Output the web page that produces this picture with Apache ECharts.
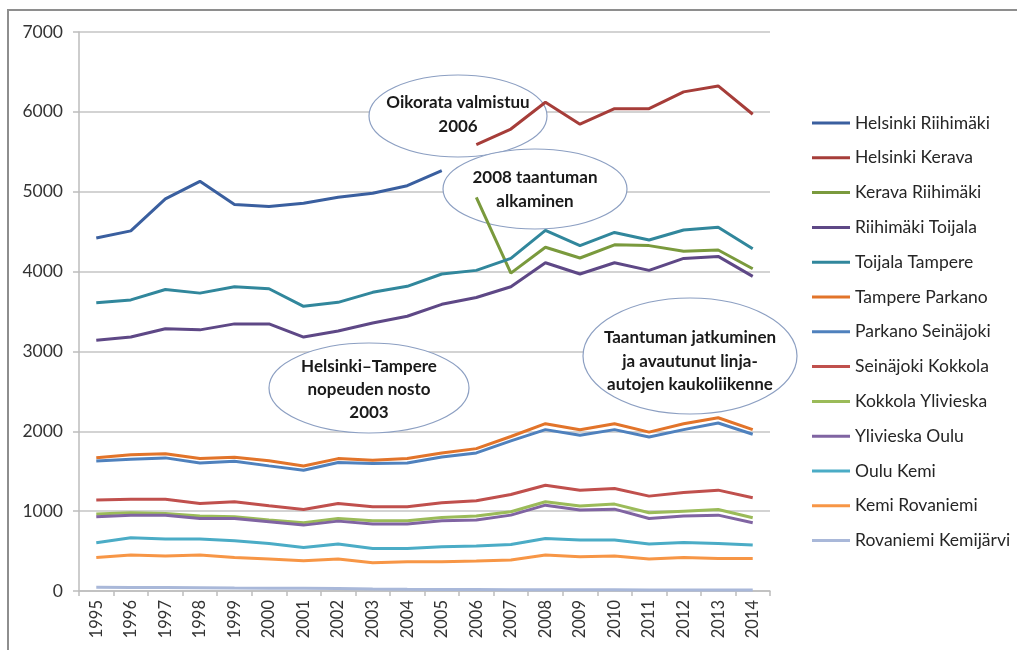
<!DOCTYPE html>
<html>
<head>
<meta charset="utf-8">
<script src="https://cdn.jsdelivr.net/npm/echarts@6/dist/echarts.min.js"></script>
<style>
  html, body { margin: 0; padding: 0; background: #ffffff; }
  #chart { width: 1017px; height: 650px; }
</style>
</head>
<body>
<div id="chart"></div>
<script>
// Years on the horizontal axis
const years = ['1995','1996','1997','1998','1999','2000','2001','2002','2003','2004',
               '2005','2006','2007','2008','2009','2010','2011','2012','2013','2014'];

// Route sections (legend order)
const routeNames = [
  'Helsinki Riihimäki', 'Helsinki Kerava', 'Kerava Riihimäki', 'Riihimäki Toijala',
  'Toijala Tampere', 'Tampere Parkano', 'Parkano Seinäjoki', 'Seinäjoki Kokkola',
  'Kokkola Ylivieska', 'Ylivieska Oulu', 'Oulu Kemi', 'Kemi Rovaniemi', 'Rovaniemi Kemijärvi'
];

// Values per section, one entry per year (null = no figure for that year)
const helsinkiRiihimaki = [4420, 4510, 4910, 5130, 4840, 4815, 4855, 4930, 4980, 5075, 5265,
                           null, null, null, null, null, null, null, null, null];
const helsinkiKerava    = [null, null, null, null, null, null, null, null, null, null, null,
                           5590, 5785, 6120, 5845, 6040, 6040, 6250, 6325, 5970];
const keravaRiihimaki   = [null, null, null, null, null, null, null, null, null, null, null,
                           4930, 3980, 4305, 4170, 4335, 4325, 4255, 4270, 4035];
const riihimakiToijala  = [3140, 3180, 3285, 3270, 3345, 3345, 3180, 3255, 3355, 3440, 3590,
                           3675, 3810, 4110, 3970, 4110, 4015, 4165, 4190, 3940];
const toijalaTampere    = [3610, 3645, 3775, 3730, 3810, 3785, 3565, 3615, 3740, 3815, 3970,
                           4015, 4165, 4515, 4325, 4490, 4395, 4520, 4555, 4285];
const tamperParkano     = [1670, 1705, 1720, 1660, 1675, 1630, 1565, 1658, 1638, 1658, 1728,
                           1783, 1935, 2095, 2020, 2095, 1990, 2095, 2170, 2020];
const parkanoSeinajoki  = [1628, 1650, 1667, 1604, 1625, 1567, 1513, 1608, 1596, 1604, 1679,
                           1729, 1879, 2021, 1950, 2021, 1929, 2021, 2104, 1963];
const seinajokiKokkola  = [1138, 1150, 1150, 1096, 1117, 1067, 1021, 1096, 1054, 1054, 1104,
                           1129, 1208, 1325, 1263, 1283, 1188, 1233, 1263, 1167];
const kokkolaYlivieska  = [963, 979, 971, 938, 929, 888, 854, 908, 879, 879, 921,
                           938, 992, 1117, 1063, 1088, 979, 1000, 1021, 917];
const ylivieskaOulu     = [929, 950, 950, 908, 908, 867, 825, 875, 838, 838, 879,
                           888, 950, 1075, 1013, 1025, 908, 938, 950, 854];
const ouluKemi          = [604, 667, 650, 650, 629, 596, 546, 588, 533, 533, 554,
                           563, 583, 658, 638, 638, 588, 608, 596, 575];
const kemiRovaniemi     = [421, 450, 438, 450, 421, 400, 379, 400, 354, 367, 367,
                           375, 388, 450, 429, 438, 400, 421, 408, 408];
const rovaniemiKemijarvi = [46, 45, 44, 42, 38, 35, 33, 30, 25, 22, 20,
                            18, 15, 15, 15, 15, 14, 13, 13, 12];

const seriesValues = [
  helsinkiRiihimaki, helsinkiKerava, keravaRiihimaki, riihimakiToijala, toijalaTampere,
  tamperParkano, parkanoSeinajoki, seinajokiKokkola, kokkolaYlivieska, ylivieskaOulu,
  ouluKemi, kemiRovaniemi, rovaniemiKemijarvi
];

// Y axis tick values
const yTicks = [0, 1000, 2000, 3000, 4000, 5000, 6000, 7000];

// Milestone notes
const notes = [
  ['Oikorata valmistuu', '2006'],
  ['2008 taantuman', 'alkaminen'],
  ['Helsinki–Tampere', 'nopeuden nosto', '2003'],
  ['Taantuman jatkuminen', 'ja avautunut linja-', 'autojen kaukoliikenne']
];

const palette = [
  '#3A5F9F', '#A63D39', '#7A9A3D', '#5E4886', '#31879C', '#E2742A',
  '#4F81BD', '#C0504D', '#9BBB59', '#8064A2', '#4BACC6', '#F79646', '#A9B8D9'
];

const fontFamily = 'Lato, "Open Sans", sans-serif';
const chart = echarts.init(document.getElementById('chart'), null, { renderer: 'canvas' });

// Ellipse placement for each note: centre, radii, text line centres
const noteBoxes = [
  { cx: 458, cy: 116, rx: 89, ry: 41, lines: [103, 127] },
  { cx: 535, cy: 189, rx: 92, ry: 40, lines: [178, 202] },
  { cx: 369, cy: 388, rx: 100, ry: 45, lines: [367, 390, 413] },
  { cx: 690, cy: 356, rx: 107, ry: 58, lines: [338, 362, 385] }
];

const graphics = [
  // outer frame
  {
    type: 'rect', z: 0, silent: true,
    shape: { x: 8, y: 10, width: 1040, height: 680 },
    style: { fill: 'none', stroke: '#8E8E8E', lineWidth: 2 }
  }
];
noteBoxes.forEach((b, i) => {
  graphics.push({
    type: 'ellipse', z: 1, silent: true,
    shape: { cx: b.cx, cy: b.cy, rx: b.rx, ry: b.ry },
    style: { fill: '#ffffff', stroke: '#8C9FC2', lineWidth: 1.2 }
  });
  notes[i].forEach((line, j) => {
    graphics.push({
      type: 'text', z: 10, silent: true,
      x: b.cx, y: b.lines[j],
      style: {
        text: line, fill: '#1a1a1a',
        font: 'bold 17px ' + fontFamily,
        textAlign: 'center', textVerticalAlign: 'middle'
      }
    });
  });
});

const option = {
  backgroundColor: '#ffffff',
  animation: false,
  color: palette,
  grid: { left: 79, top: 32, right: 247, bottom: 59, containLabel: false },
  legend: {
    orient: 'vertical',
    left: 807,
    top: 108,
    itemWidth: 38,
    itemHeight: 3,
    itemGap: 14.8,
    icon: 'rect',
    selectedMode: false,
    data: routeNames,
    textStyle: { fontFamily: fontFamily, fontSize: 17.5, color: '#262626', lineHeight: 20 }
  },
  xAxis: {
    type: 'category',
    data: years,
    boundaryGap: true,
    axisLine: { show: true, lineStyle: { color: '#BDBDBD', width: 1.5 } },
    axisTick: { show: true, interval: 0, length: 5, lineStyle: { color: '#BDBDBD', width: 1.5 } },
    axisLabel: {
      interval: 0, rotate: 90, margin: 9,
      fontFamily: fontFamily, fontSize: 16.5, color: '#333333'
    },
    splitLine: { show: false }
  },
  yAxis: {
    type: 'value',
    min: yTicks[0],
    max: yTicks[yTicks.length - 1],
    interval: yTicks[1] - yTicks[0],
    axisLine: { show: true, lineStyle: { color: '#BDBDBD', width: 1.5 } },
    axisTick: { show: true, length: 6, lineStyle: { color: '#BDBDBD', width: 1.5 } },
    axisLabel: {
      margin: 16, fontFamily: fontFamily, fontSize: 17.5, color: '#333333',
      formatter: (v) => String(v)
    },
    splitLine: { show: true, lineStyle: { color: '#C4C4C4', width: 1.5 } }
  },
  graphic: { elements: graphics },
  series: routeNames.map((name, i) => ({
    name: name,
    type: 'line',
    data: seriesValues[i],
    showSymbol: false,
    symbol: 'none',
    connectNulls: false,
    lineStyle: { width: 3, color: palette[i] },
    itemStyle: { color: palette[i] },
    z: 2
  }))
};

chart.setOption(option);
</script>
</body>
</html>
